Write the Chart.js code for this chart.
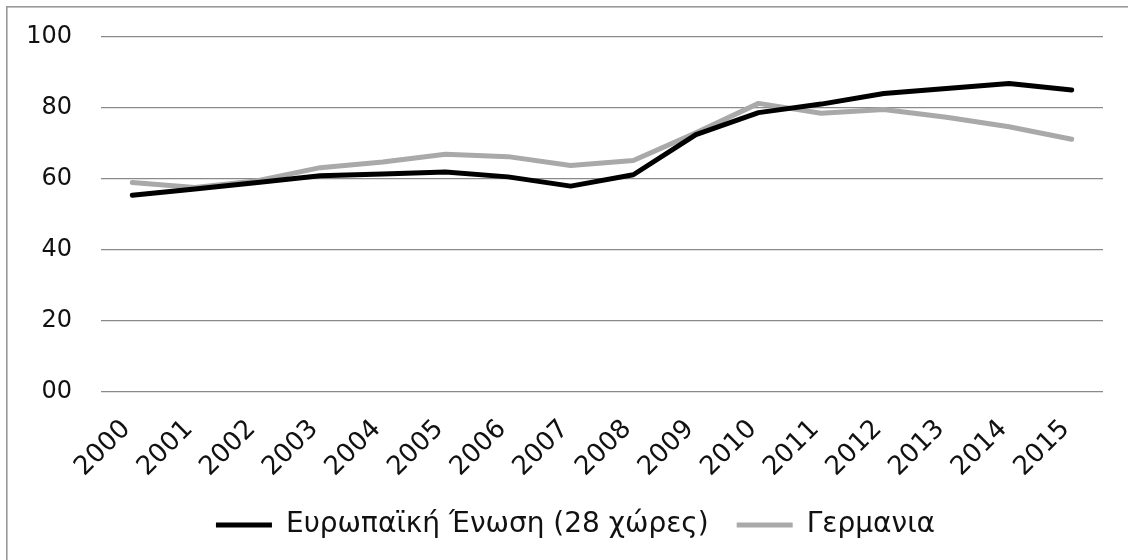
<!DOCTYPE html>
<html>
<head>
<meta charset="utf-8">
<script src="https://cdn.jsdelivr.net/npm/chart.js@4/dist/chart.umd.min.js"></script>
<style>
  html, body { margin: 0; padding: 0; background: #ffffff; }
  #wrap { width: 1128px; height: 560px; position: relative; }
</style>
</head>
<body>
<div id="wrap"><canvas id="chart" width="1128" height="560"></canvas></div>
<script>
// Years on the horizontal axis
const years = ['2000','2001','2002','2003','2004','2005','2006','2007',
               '2008','2009','2010','2011','2012','2013','2014','2015'];

// Series values
const euValues = [55.4, 57.2, 59.0, 60.9, 61.4, 62.0, 60.6, 58.0,
                  61.2, 72.5, 78.7, 81.1, 84.1, 85.5, 86.9, 85.1];
const deValues = [59.0, 57.6, 59.5, 63.2, 64.8, 67.0, 66.3, 63.8,
                  65.2, 73.0, 81.3, 78.5, 79.6, 77.4, 74.7, 71.2];

// Series names
const euLabel = 'Ευρωπαϊκή Ένωση (28 χώρες)';
const deLabel = 'Γερμανια';

// Value axis tick labels
const yTickText = { 0: '00', 20: '20', 40: '40', 60: '60', 80: '80', 100: '100' };

const FONT = '"DejaVu Sans", sans-serif';
const TEXT = '#111111';
const GRID = '#8a8a8a';

// Thin frame around the whole chart
const framePlugin = {
  id: 'frame',
  beforeDraw(chart) {
    const c = chart.ctx;
    c.save();
    c.fillStyle = '#ffffff';
    c.fillRect(0, 0, chart.width, chart.height);
    c.fillStyle = '#9a9a9a';
    c.fillRect(6, 6, chart.width, 1.6);
    c.fillRect(6, 6, 1.6, chart.height);
    c.restore();
  }
};

// Moves the legend row a little to the right of the plain centred position
const legendNudge = {
  id: 'legendNudge',
  afterLayout(chart) {
    const lg = chart.legend;
    if (lg) { lg.left += 24; lg.right += 24; }
  }
};

new Chart(document.getElementById('chart'), {
  type: 'line',
  data: {
    labels: years,
    datasets: [
      {
        label: euLabel,
        data: euValues,
        borderColor: '#000000',
        backgroundColor: '#000000',
        borderWidth: 5,
        borderCapStyle: 'round',
        borderJoinStyle: 'round',
        pointRadius: 0,
        pointStyle: 'line',
        tension: 0
      },
      {
        label: deLabel,
        data: deValues,
        borderColor: '#a9a9a9',
        backgroundColor: '#a9a9a9',
        borderWidth: 5,
        borderCapStyle: 'round',
        borderJoinStyle: 'round',
        pointRadius: 0,
        pointStyle: 'line',
        tension: 0
      }
    ]
  },
  options: {
    responsive: false,
    animation: false,
    layout: { padding: { left: 0, right: 25, top: 37, bottom: 11 } },
    plugins: {
      tooltip: { enabled: false },
      legend: {
        position: 'bottom',
        labels: {
          usePointStyle: true,
          pointStyle: 'line',
          pointStyleWidth: 56,
          padding: 28,
          color: TEXT,
          font: { family: FONT, size: 28, lineHeight: 1 }
        }
      }
    },
    scales: {
      x: {
        offset: true,
        grid: { display: false },
        border: { display: false },
        ticks: {
          color: TEXT,
          font: { family: FONT, size: 26 },
          minRotation: 45,
          maxRotation: 45,
          padding: 14,
          labelOffset: -6,
          autoSkip: false
        },
        afterFit(scale) { scale.height = 91; }
      },
      y: {
        min: 0,
        max: 100,
        border: { display: false },
        grid: {
          color: GRID,
          lineWidth: 1.3,
          drawTicks: true,
          tickLength: 26,
          tickColor: 'rgba(0,0,0,0)'
        },
        ticks: {
          stepSize: 20,
          color: TEXT,
          font: { family: FONT, size: 24 },
          padding: 3,
          callback: (v) => yTickText[v] ?? String(v)
        },
        afterFit(scale) { scale.width = 101; }
      }
    }
  },
  plugins: [framePlugin, legendNudge]
});
</script>
</body>
</html>
